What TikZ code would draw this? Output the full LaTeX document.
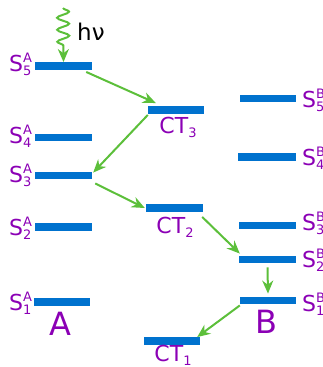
\documentclass[tikz,border=0pt]{standalone}
\usepackage{fontspec}
\setmainfont{DejaVu Sans}
\usetikzlibrary{arrows.meta,decorations.pathmorphing}
\definecolor{barblue}{HTML}{0072CE}
\definecolor{labpurple}{HTML}{8B00B5}
\definecolor{argreen}{HTML}{5CBF3A}
\newcommand\lv[3]{#1\raisebox{-4.5pt}{\rlap{\fontsize{13}{13}\selectfont #3}}\raisebox{8.5pt}{\fontsize{13}{13}\selectfont #2}}
\newcommand\ctl[1]{CT\raisebox{-4.5pt}{\fontsize{13}{13}\selectfont #1}}
\tikzset{
  bar/.style={rectangle, fill=barblue, draw=none, minimum height=7.5pt, inner sep=0pt},
  lbl/.style={text=labpurple, inner sep=0pt, font=\fontsize{22}{22}\selectfont},
  big/.style={text=labpurple, inner sep=0pt, font=\fontsize{32}{32}\selectfont},
  arr/.style={draw=argreen, line width=2pt, -{Stealth[length=13pt,width=11pt]}},
}
\begin{document}
\begin{tikzpicture}[x=1pt,y=-1pt]
\useasboundingbox (0,0) rectangle (323,367);
% bars
\node[bar, minimum width=57pt] (s5a) at (63.5,66) {};
\node[bar, minimum width=57pt] (s4a) at (63.5,137.5) {};
\node[bar, minimum width=57pt] (s3a) at (63.5,175.5) {};
\node[bar, minimum width=57pt] (s2a) at (63.5,227) {};
\node[bar, minimum width=56pt] (s1a) at (62,302) {};
\node[bar, minimum width=56pt] (ct3) at (176,110) {};
\node[bar, minimum width=57pt] (ct2) at (174.5,208) {};
\node[bar, minimum width=56pt] (ct1) at (172,341) {};
\node[bar, minimum width=56pt] (s5b) at (268,98.5) {};
\node[bar, minimum width=58pt] (s4b) at (267,157) {};
\node[bar, minimum width=57pt] (s3b) at (267.5,225.5) {};
\node[bar, minimum width=57pt] (s2b) at (267.5,259.5) {};
\node[bar, minimum width=56pt] (s1b) at (268,300.5) {};
% labels A side
\node[lbl, anchor=base west] (l5a) at (9,71) {\lv{S}{A}{5}};
\node[lbl, anchor=base west] (l4a) at (9,143) {\lv{S}{A}{4}};
\node[lbl, anchor=base west] (l3a) at (9,182) {\lv{S}{A}{3}};
\node[lbl, anchor=base west] (l2a) at (9,235) {\lv{S}{A}{2}};
\node[lbl, anchor=base west] (l1a) at (9,310) {\lv{S}{A}{1}};
% labels B side
\node[lbl, anchor=base west] (l5b) at (302,107) {\lv{S}{B}{5}};
\node[lbl, anchor=base west] (l4b) at (302,165) {\lv{S}{B}{4}};
\node[lbl, anchor=base west] (l3b) at (302,230) {\lv{S}{B}{3}};
\node[lbl, anchor=base west] (l2b) at (302,267) {\lv{S}{B}{2}};
\node[lbl, anchor=base west] (l1b) at (302,311) {\lv{S}{B}{1}};
% CT labels
\node[lbl, anchor=base] (lct3) at (178,133) {\ctl{3}};
\node[lbl, anchor=base] (lct2) at (175,233) {\ctl{2}};
\node[lbl, anchor=base] (lct1) at (173,361) {\ctl{1}};
% molecule labels
\node[big, anchor=base] (la) at (60,335) {A};
\node[big, anchor=base] (lb) at (266,333) {B};
% photon
\coordinate (ph) at (63,8);
\draw[argreen, line width=2pt, decorate,
  decoration={snake, amplitude=6pt, segment length=12pt, post length=13pt},
  -{Stealth[length=13pt,width=11pt]}] (ph) -- (s5a.north);
\node[inner sep=0pt, anchor=base west, font=\fontsize{23}{23}\selectfont] (hv) at (77,40) {hν};
% transfer arrows
\draw[arr] ([xshift=-6pt,yshift=-2pt]s5a.south east) -- ([xshift=8pt,yshift=3pt]ct3.north west);
\draw[arr] ([yshift=-1pt]ct3.south west) -- ([xshift=1pt,yshift=-1pt]s3a.north east);
\draw[arr] ([xshift=3pt,yshift=-4pt]s3a.south east) -- ([xshift=-1pt]ct2.west);
\draw[arr] ([xshift=-1pt,yshift=-5pt]ct2.south east) -- ([xshift=1pt,yshift=2pt]s2b.north west);
\draw[arr] ([yshift=-4pt]s2b.south) -- ([yshift=3pt]s1b.north);
\draw[arr] ([yshift=-1pt]s1b.south west) -- ([xshift=-3pt]ct1.north east);
\end{tikzpicture}
\end{document}
